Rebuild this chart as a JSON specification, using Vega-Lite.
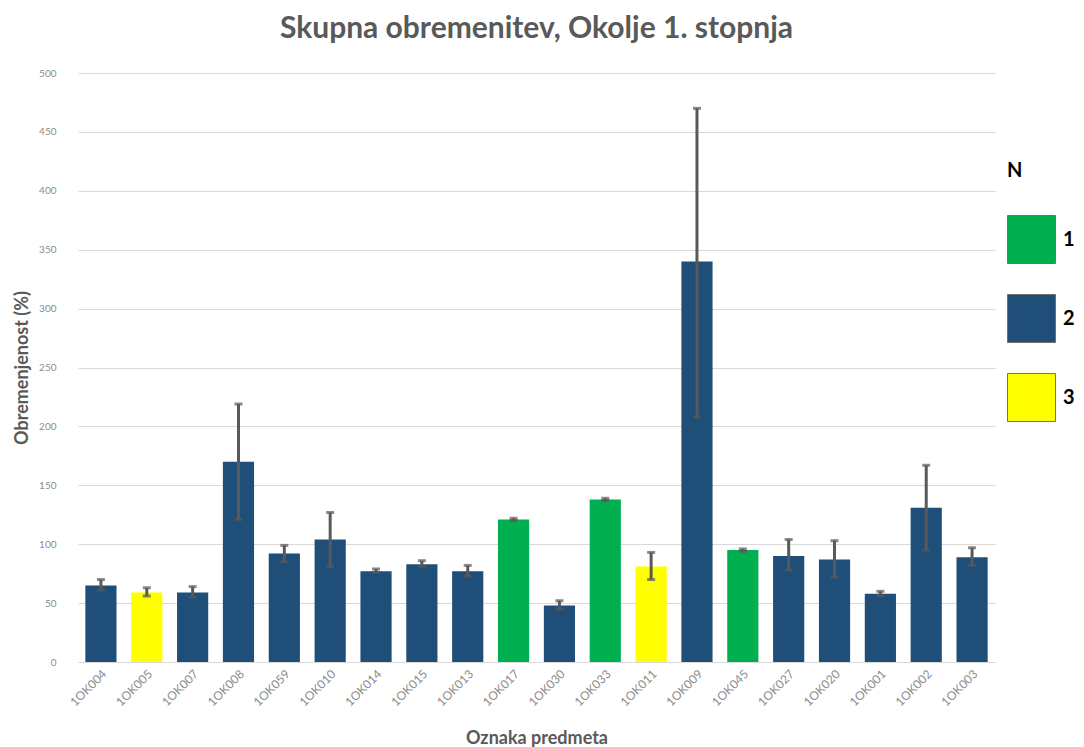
{
  "$schema": "https://vega.github.io/schema/vega-lite/v6.json",
  "width": 917,
  "height": 589,
  "autosize": "none",
  "padding": {"left": 78, "top": 73, "right": 89, "bottom": 85},
  "background": "white",
  "title": {
    "text": "Skupna obremenitev, Okolje 1. stopnja",
    "font": "Lato",
    "fontSize": 30,
    "fontWeight": "bold",
    "color": "#595959",
    "anchor": "middle",
    "offset": 24
  },
  "config": {
    "view": {"stroke": null},
    "font": "Lato"
  },
  "data": {
    "values": [
      {"oznaka": "1OK004", "N": "2", "vrednost": 65, "min": 61, "max": 70},
      {"oznaka": "1OK005", "N": "3", "vrednost": 59, "min": 56, "max": 63},
      {"oznaka": "1OK007", "N": "2", "vrednost": 59, "min": 55, "max": 64},
      {"oznaka": "1OK008", "N": "2", "vrednost": 170, "min": 121, "max": 219},
      {"oznaka": "1OK059", "N": "2", "vrednost": 92, "min": 85, "max": 99},
      {"oznaka": "1OK010", "N": "2", "vrednost": 104, "min": 81, "max": 127},
      {"oznaka": "1OK014", "N": "2", "vrednost": 77, "min": 76, "max": 79},
      {"oznaka": "1OK015", "N": "2", "vrednost": 83, "min": 81, "max": 86},
      {"oznaka": "1OK013", "N": "2", "vrednost": 77, "min": 73, "max": 82},
      {"oznaka": "1OK017", "N": "1", "vrednost": 121, "min": 120, "max": 122},
      {"oznaka": "1OK030", "N": "2", "vrednost": 48, "min": 45, "max": 52},
      {"oznaka": "1OK033", "N": "1", "vrednost": 138, "min": 137, "max": 139},
      {"oznaka": "1OK011", "N": "3", "vrednost": 81, "min": 70, "max": 93},
      {"oznaka": "1OK009", "N": "2", "vrednost": 340, "min": 208, "max": 470},
      {"oznaka": "1OK045", "N": "1", "vrednost": 95, "min": 94, "max": 96},
      {"oznaka": "1OK027", "N": "2", "vrednost": 90, "min": 78, "max": 104},
      {"oznaka": "1OK020", "N": "2", "vrednost": 87, "min": 72, "max": 103},
      {"oznaka": "1OK001", "N": "2", "vrednost": 58, "min": 56, "max": 60},
      {"oznaka": "1OK002", "N": "2", "vrednost": 131, "min": 95, "max": 167},
      {"oznaka": "1OK003", "N": "2", "vrednost": 89, "min": 82, "max": 97}
    ]
  },
  "encoding": {
    "x": {
      "field": "oznaka",
      "type": "nominal",
      "sort": null,
      "scale": {"paddingInner": 0.32, "paddingOuter": 0.16},
      "axis": {
        "title": "Oznaka predmeta",
        "titleFont": "Lato",
        "titleFontSize": 18,
        "titleFontWeight": "bold",
        "titleColor": "#595959",
        "titlePadding": 22,
        "labelAngle": -45,
        "labelFontSize": 12,
        "labelColor": "#8c8c8c",
        "labelPadding": 6,
        "ticks": false,
        "domainColor": "#d9d9d9",
        "domainWidth": 1
      }
    }
  },
  "layer": [
    {
      "mark": {"type": "bar"},
      "encoding": {
        "y": {
          "field": "vrednost",
          "type": "quantitative",
          "title": "Obremenjenost (%)",
          "scale": {"domain": [0, 500]},
          "axis": {
            "titleFont": "Lato",
            "titleFontSize": 18,
            "titleFontWeight": "bold",
            "titleColor": "#595959",
            "titlePadding": 7,
            "values": [0, 50, 100, 150, 200, 250, 300, 350, 400, 450, 500],
            "labelFontSize": 10,
            "labelColor": "#8c8c8c",
            "labelPadding": 22,
            "ticks": false,
            "domain": false,
            "gridColor": "#d9d9d9",
            "gridWidth": 1
          }
        },
        "color": {
          "field": "N",
          "type": "nominal",
          "scale": {"domain": ["1", "2", "3"], "range": ["#00B050", "#1F4E79", "#FFFF00"]},
          "legend": {
            "title": "N",
            "orient": "none",
            "legendX": 929,
            "legendY": 88,
            "titleFontSize": 20,
            "titleFontWeight": "bold",
            "titleColor": "#000000",
            "titlePadding": 34,
            "titleAnchor": "start",
            "symbolType": "square",
            "symbolSize": 2300,
            "symbolStrokeColor": "#6f6f6f",
            "symbolStrokeWidth": 1,
            "labelFontSize": 20,
            "labelFontWeight": "bold",
            "labelColor": "#000000",
            "labelOffset": 7,
            "rowPadding": 26
          }
        }
      }
    },
    {
      "mark": {
        "type": "errorbar",
        "color": "#595959",
        "thickness": 3,
        "ticks": {"size": 8, "thickness": 3, "color": "#595959"}
      },
      "encoding": {
        "y": {"field": "min", "type": "quantitative", "title": "Obremenjenost (%)"},
        "y2": {"field": "max"}
      }
    }
  ]
}
